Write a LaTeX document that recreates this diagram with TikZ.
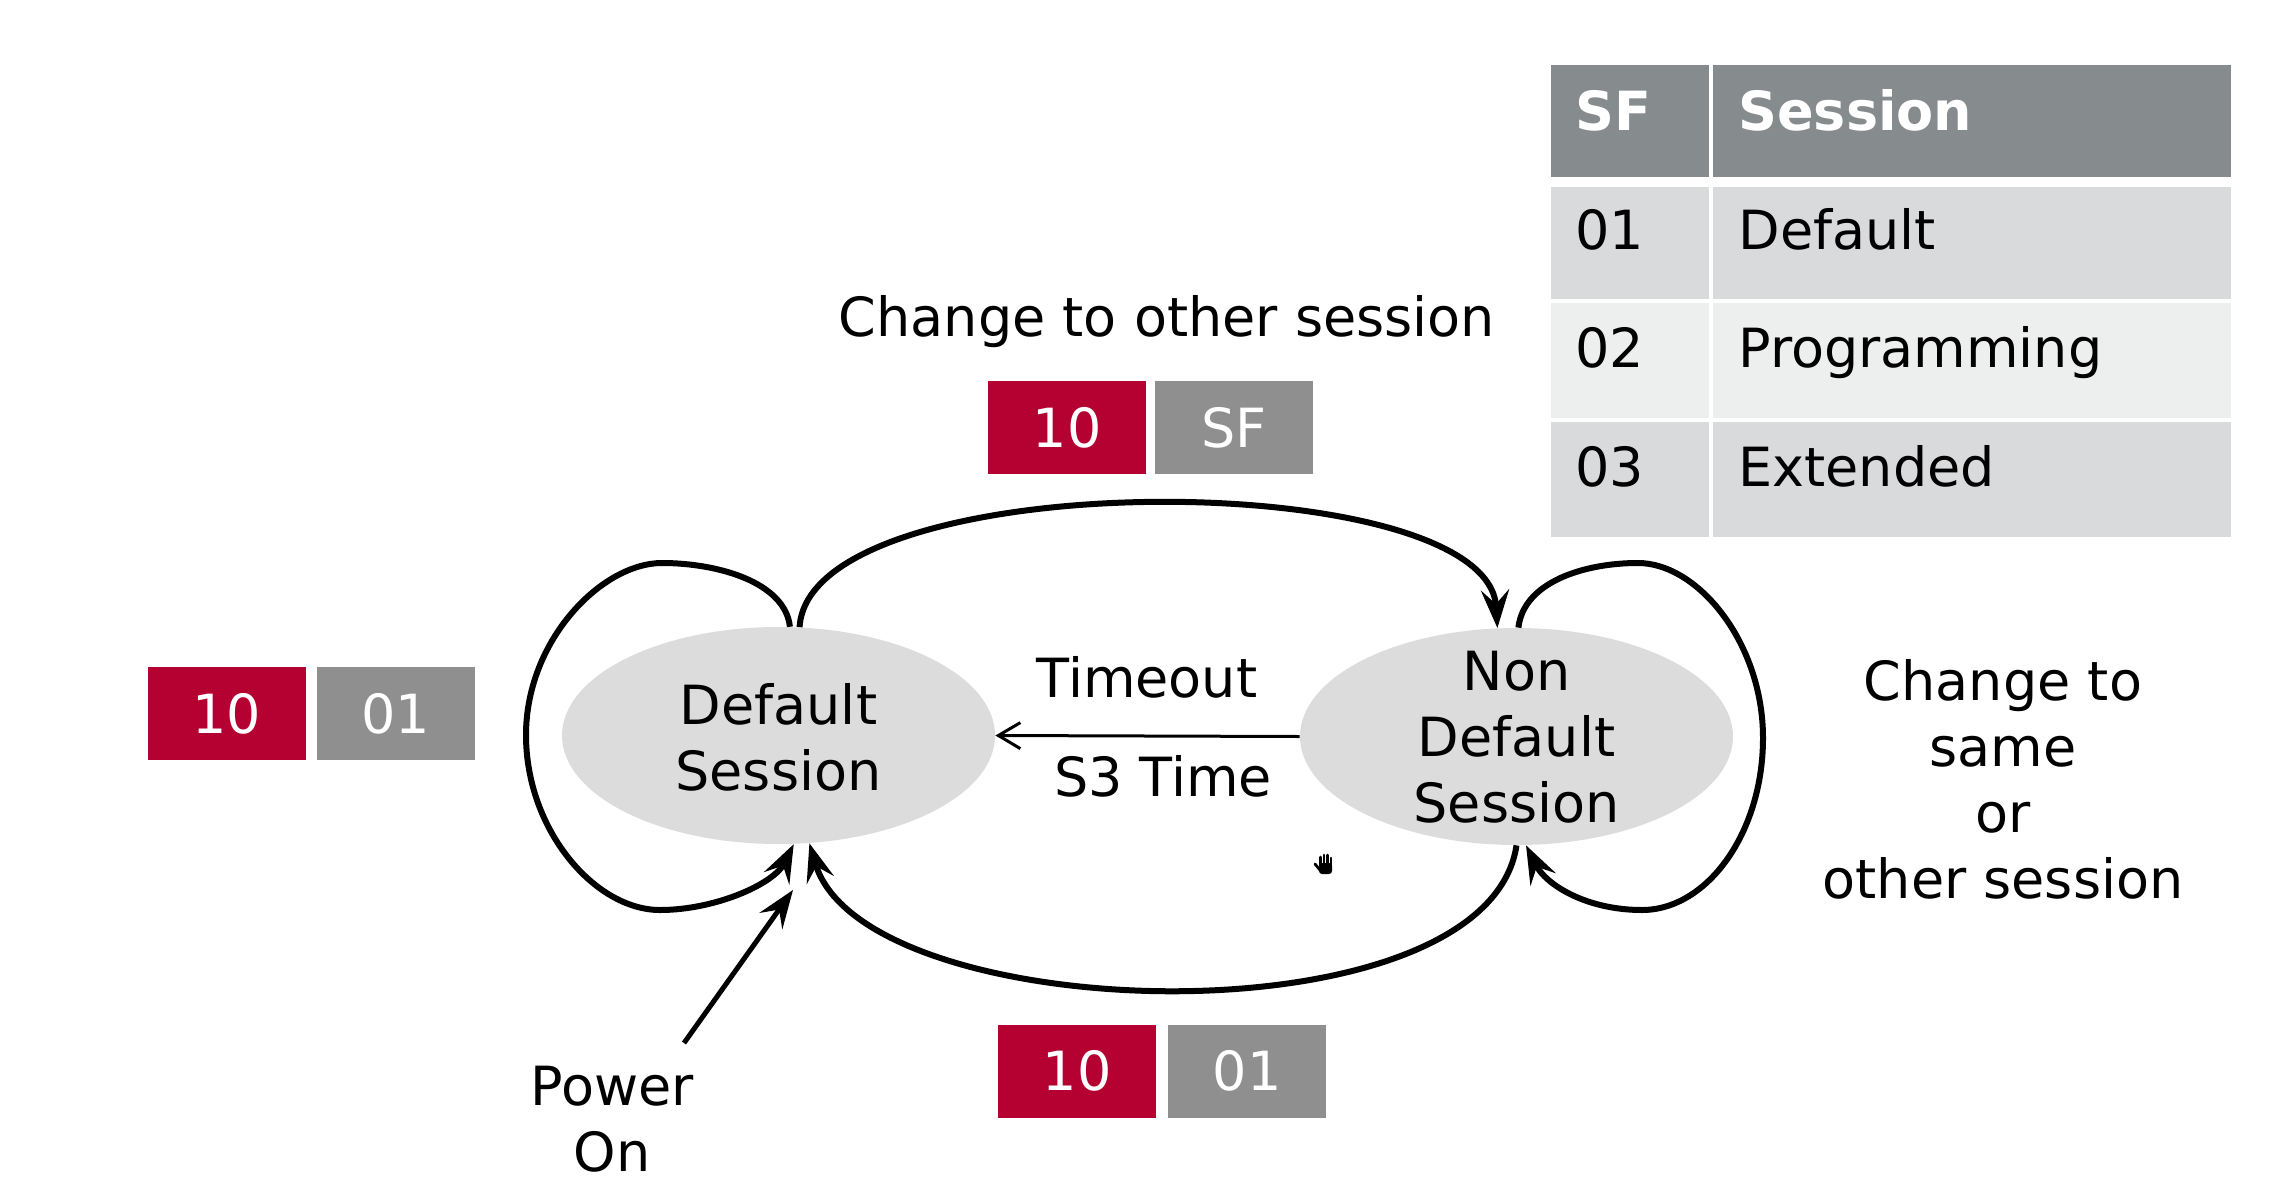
\documentclass[tikz,border=0pt]{standalone}
\usepackage{fontspec}
\setmainfont{DejaVu Sans}
\usetikzlibrary{shapes.geometric,arrows.meta}
\definecolor{boxred}{HTML}{B50032}
\definecolor{boxgray}{HTML}{8F8F8F}
\definecolor{ellfill}{HTML}{DCDCDC}
\definecolor{thead}{HTML}{868B8E}
\definecolor{trowd}{HTML}{D9DADC}
\definecolor{trowl}{HTML}{EDEEEE}
\begin{document}
\begin{tikzpicture}[x=0.5pt,y=-0.5pt,
  txt/.style={font=\fontsize{27}{33}\selectfont, inner sep=0pt},
  thd/.style={anchor=base west, inner sep=0pt, text=white, font=\fontsize{27}{33}\selectfont\bfseries},
  tcell/.style={anchor=base west, inner sep=0pt, font=\fontsize{27}{33}\selectfont},
  state/.style={ellipse, fill=ellfill, minimum width=216.5pt, minimum height=108.5pt, inner sep=0pt},
  codebox/.style={minimum width=79pt, minimum height=46.5pt, inner sep=0pt, text=white, font=\fontsize{27}{33}\selectfont},
  redbox/.style={codebox, fill=boxred},
  graybox/.style={codebox, fill=boxgray},
  trans/.style={line width=3pt, -{Stealth[length=19pt,width=14pt,inset=7pt]}},
  thin arrow/.style={line width=1.5pt, -{Straight Barb[length=11pt,width=13pt]}},
  power arrow/.style={line width=2.5pt, -{Stealth[length=19pt,width=14pt,inset=7pt]}},
  finger/.style={line width=1.4pt, line cap=round}
]
\fill[white] (0,0) rectangle (2280,1194);
\useasboundingbox (0,0) rectangle (2280,1194);

% table
\fill[thead] (1551,65) rectangle (1709,177);
\fill[thead] (1713,65) rectangle (2231,177);
\fill[trowd] (1551,187) rectangle (1709,299);
\fill[trowd] (1713,187) rectangle (2231,299);
\fill[trowl] (1551,303) rectangle (1709,418);
\fill[trowl] (1713,303) rectangle (2231,418);
\fill[trowd] (1551,422) rectangle (1709,537);
\fill[trowd] (1713,422) rectangle (2231,537);
\node[thd] (hsf) at (1575,130) {SF};
\node[thd] (hses) at (1738,130) {Session};
\node[tcell] (c01) at (1575,249) {01};
\node[tcell] (cdef) at (1738,249) {Default};
\node[tcell] (c02) at (1575,367) {02};
\node[tcell] (cprog) at (1738,367) {Programming};
\node[tcell] (c03) at (1575,486) {03};
\node[tcell] (cext) at (1738,486) {Extended};

% code boxes
\node[redbox] (r1) at (1067,427.5) {10};
\node[graybox] (g1) at (1234,427.5) {SF};
\node[redbox] (r2) at (227,713.5) {10};
\node[graybox] (g2) at (396,713.5) {01};
\node[redbox] (r3) at (1077,1071) {10};
\node[graybox] (g3) at (1247,1071) {01};

% states
\node[state] (def) at (778.5,735.5) {};
\node[state] (ndef) at (1516.5,736.5) {};
\node[txt, align=center] (deft) at (778.5,737) {Default\\Session};
\node[txt, align=center] (ndeft) at (1516.5,737.5) {Non\\Default\\Session};

% labels
\node[txt, anchor=base] (chg) at (1167,336) {Change to other session};
\node[txt, anchor=base] (tmo) at (1147,697) {Timeout};
\node[txt, anchor=base] (s3t) at (1163,796) {S3 Time};
\node[txt, align=center] (same) at (2003,779) {Change to\\same\\or\\other session};
\node[txt, align=center] (pwr) at (612,1119) {Power\\On};

% small hand cursor
\fill[rounded corners=1.5pt] (1319,863) rectangle (1332,874);
\draw[finger] (1320.5,866) -- (1320.5,857);
\draw[finger] (1324,866) -- (1324,855);
\draw[finger] (1327.5,866) -- (1327.5,855);
\draw[finger] (1331,866) -- (1331,858);
\draw[finger] (1320,870) -- (1315,864);

% transitions
\draw[trans] (def.79) .. controls +(10,-164) and +(-10,-164) .. (ndef.100);
\draw[trans] (def.84) .. controls +(-5,-45) and +(55,0) .. (662,563)
  .. controls +(-60,0) and +(0,-95) .. (526,735)
  .. controls +(0,95) and +(-65,0) .. (660,910)
  .. controls +(55,0) and +(-20,40) .. (def.278);
\draw[trans] (ndef.89) .. controls +(5,-45) and +(-55,0) .. (1638,563)
  .. controls +(60,0) and +(0,-95) .. (1763,738)
  .. controls +(0,95) and +(65,0) .. (1642,910)
  .. controls +(-55,0) and +(20,40) .. (ndef.275);
\draw[trans] (ndef.south) .. controls +(-30,200) and +(55,185) .. (def.286);
\draw[thin arrow] (ndef.west) -- (def.east);
\coordinate (pwstart) at (684,1043);
\coordinate (pwend) at (793,890);
\draw[power arrow] (pwstart) -- (pwend);
\end{tikzpicture}
\end{document}
